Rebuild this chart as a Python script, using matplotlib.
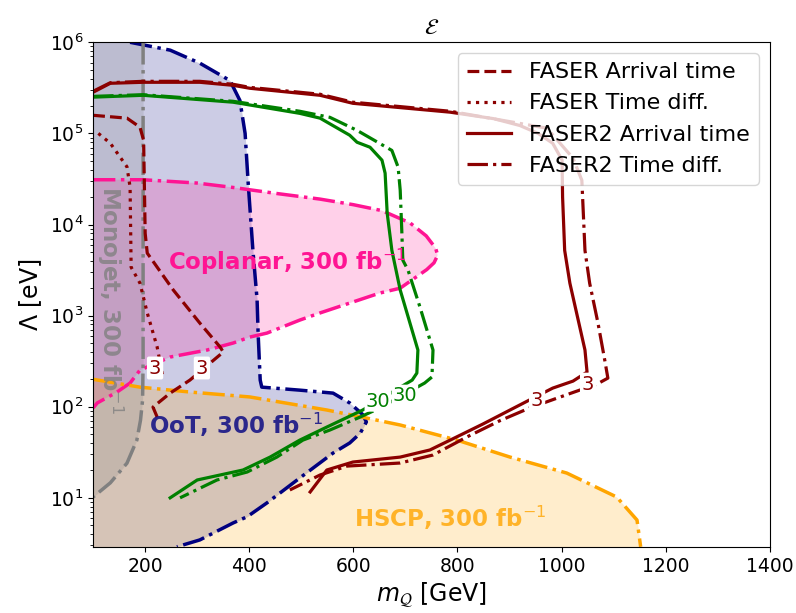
import numpy as np
import matplotlib
matplotlib.use("Agg")
import matplotlib.pyplot as plt

# --- exclusion regions ---
oot_m = [171, 248, 305, 363, 382, 392, 398, 407, 415, 417, 421, 424, 497, 561, 593, 618, 625,
         613, 593, 561, 497, 434, 396, 369, 305, 261]
oot_lam = [1e6, 8.2e5, 5.9e5, 3.8e5, 2.3e5, 1e5, 2.8e4, 5.2e3, 1.5e3, 640, 196, 164, 152, 141, 110, 82, 68,
           51, 40, 31, 16.5, 8.8, 6.2, 5.3, 3.45, 2.9]

copl_m = [100, 196, 300, 369, 450, 536, 600, 655, 709, 740, 758, 762, 755, 741, 690, 651, 599, 536,
          497, 434, 401, 369, 319, 248, 190, 171, 146, 108, 100]
copl_lam = [3.1e4, 3.1e4, 2.85e4, 2.55e4, 2.2e4, 1.9e4, 1.65e4, 1.42e4, 1.04e4, 7.5e3, 5.5e3, 4.6e3, 3.8e3,
            3.2e3, 2.0e3, 1.77e3, 1.41e3, 1.07e3, 893, 643, 581, 500, 419, 351, 252, 182, 145, 110, 97]

hscp_m = [100, 190, 286, 401, 549, 626, 690, 799, 901, 1010, 1106, 1145, 1152]
hscp_lam = [200, 164, 145, 128, 92, 75, 63, 43, 28, 18.7, 10.2, 5.7, 2.9]

mono_m = [196, 196, 195, 191, 184, 165, 133, 100]
mono_lam = [1e6, 300, 118, 71, 43, 24, 14.6, 10.2]

# --- FASER sensitivity contours ---
faser_arr_m = [100, 165, 190, 197, 200, 204, 254, 305, 344, 350, 286, 248, 215, 223]
faser_arr_lam = [1.58e5, 1.47e5, 1.17e5, 8.4e4, 8.0e3, 4.85e3, 1.91e3, 828, 452, 398, 196, 141, 99, 77]

faser_td_m = [110, 133, 165, 171, 173, 190, 204, 223, 234]
faser_td_lam = [1.0e5, 7.8e4, 4.3e4, 2.57e4, 3.4e3, 2.27e3, 1.07e3, 452, 212]

faser2_arr_m = [100, 133, 196, 305, 369, 401, 536, 599, 786, 870, 920, 955, 983, 1001, 1002, 1006, 1016,
                1045, 1049, 1022, 983, 945, 901, 849, 786, 747, 690, 599, 549, 517]
faser2_arr_lam = [2.83e5, 3.55e5, 3.64e5, 3.64e5, 3.37e5, 3.13e5, 2.62e5, 2.14e5, 1.71e5, 1.45e5, 1.22e5,
                  1.0e5, 7.8e4, 5.1e4, 2.0e4, 5.2e3, 2.27e3, 419, 240, 191, 160, 124, 92, 64.6, 43, 33.5,
                  28, 24.7, 20.2, 11.6]

faser2_td_m = [100, 133, 196, 305, 369, 401, 536, 599, 786, 906, 972, 1022, 1039, 1045, 1054, 1070, 1083,
               1089, 1068, 1026, 991, 939, 881, 818, 753, 690, 588, 536, 478]
faser2_td_lam = [2.9e5, 3.6e5, 3.73e5, 3.73e5, 3.46e5, 3.2e5, 2.69e5, 2.2e5, 1.75e5, 1.33e5, 1.14e5, 5.35e4,
                 3.06e4, 5.2e3, 2.27e3, 828, 325, 206, 177, 146, 124, 97, 70, 46.5, 29.5, 24.1, 22.3, 17.8,
                 12.2]

# level-30 contours (green)
g_arr_m = [100, 196, 369, 497, 536, 593, 607, 632, 655, 661, 665, 674, 690, 724, 722, 713,
           618, 549, 497, 440, 388, 300, 248]
g_arr_lam = [2.5e5, 2.62e5, 2.2e5, 1.66e5, 1.47e5, 9.55e4, 8.0e4, 7.05e4, 5.08e4, 3.66e4, 1.33e4, 5.2e3,
             1.91e3, 419, 234, 196, 92, 59.8, 43, 28, 20.2, 15.7, 10]

g_td_m = [100, 196, 369, 497, 555, 607, 674, 686, 690, 693, 695, 705, 728, 753, 751, 737,
          651, 613, 555, 503, 453, 396, 338, 267]
g_td_lam = [2.55e5, 2.66e5, 2.25e5, 1.75e5, 1.5e5, 1.08e5, 6.5e4, 4.26e4, 2.38e4, 8.67e3, 4.06e3, 3.16e3,
            1.24e3, 419, 212, 182, 97, 77, 55.5, 43, 28, 19.2, 15.7, 10]

# contour label positions
lab3_m = [219, 309, 953, 1051]
lab3_lam = [266, 266, 118, 177]
lab30_m = [647, 699]
lab30_lam = [115, 134]

fig, ax = plt.subplots(figsize=(7.96, 6.13), dpi=100)
fig.subplots_adjust(left=0.117, right=0.967, bottom=0.108, top=0.931)

ymin = 2.9
ax.fill_betweenx(oot_lam, 100, oot_m, color='navy', alpha=0.2, lw=0)
ax.plot(oot_m, oot_lam, '-.', color='navy', lw=2.5)
ax.fill(copl_m, copl_lam, color='deeppink', alpha=0.2, lw=0)
ax.plot(copl_m, copl_lam, '-.', color='deeppink', lw=2.5)
ax.fill_between(hscp_m, ymin, hscp_lam, color='orange', alpha=0.2, lw=0)
ax.plot(hscp_m, hscp_lam, '-.', color='orange', lw=2.5)
ax.fill_betweenx(mono_lam, 100, mono_m, color='gray', alpha=0.2, lw=0)
ax.plot(mono_m, mono_lam, '-.', color='gray', lw=2.5)

ax.plot(g_arr_m, g_arr_lam, '-', color='green', lw=2.3)
ax.plot(g_td_m, g_td_lam, '-.', color='green', lw=2.3)

ax.plot(faser_arr_m, faser_arr_lam, '--', color='darkred', lw=2.3, label='FASER Arrival time')
ax.plot(faser_td_m, faser_td_lam, ':', color='darkred', lw=2.3, label='FASER Time diff.')
ax.plot(faser2_arr_m, faser2_arr_lam, '-', color='darkred', lw=2.3, label='FASER2 Arrival time')
ax.plot(faser2_td_m, faser2_td_lam, '-.', color='darkred', lw=2.3, label='FASER2 Time diff.')

for m, l in zip(lab3_m, lab3_lam):
    ax.text(m, l, '3', color='darkred', fontsize=14, ha='center', va='center',
            bbox=dict(boxstyle='round,pad=0.1', fc='white', ec='none'))
for m, l in zip(lab30_m, lab30_lam):
    ax.text(m, l, '30', color='green', fontsize=14, ha='center', va='center',
            bbox=dict(boxstyle='round,pad=0.05', fc='white', ec='none'))

ax.text(472, 3.86e3, 'Coplanar, 300 fb$^{-1}$', color='deeppink', fontsize=16.5, weight='bold',
        ha='center', va='center')
ax.text(375, 63, 'OoT, 300 fb$^{-1}$', color='navy', alpha=0.8, fontsize=16.5, weight='bold',
        ha='center', va='center')
ax.text(786, 6.0, 'HSCP, 300 fb$^{-1}$', color='orange', alpha=0.8, fontsize=16.5, weight='bold',
        ha='center', va='center')
ax.text(133, 1.48e3, 'Monojet, 300 fb$^{-1}$', color='gray', alpha=0.8, fontsize=16.5, weight='bold',
        ha='center', va='center', rotation=-90)

ax.set_yscale('log')
ax.set_xlim(100, 1400)
ax.set_ylim(ymin, 1e6)
ax.set_xlabel(r'$m_{\mathcal{Q}}$ [GeV]', fontsize=17)
ax.set_ylabel(r'$\Lambda$ [eV]', fontsize=17)
ax.set_title(r'$\mathcal{E}$', fontsize=16)
ax.tick_params(labelsize=13.5)
ax.legend(loc='upper right', fontsize=16)

fig.savefig('out.png', dpi=100)
